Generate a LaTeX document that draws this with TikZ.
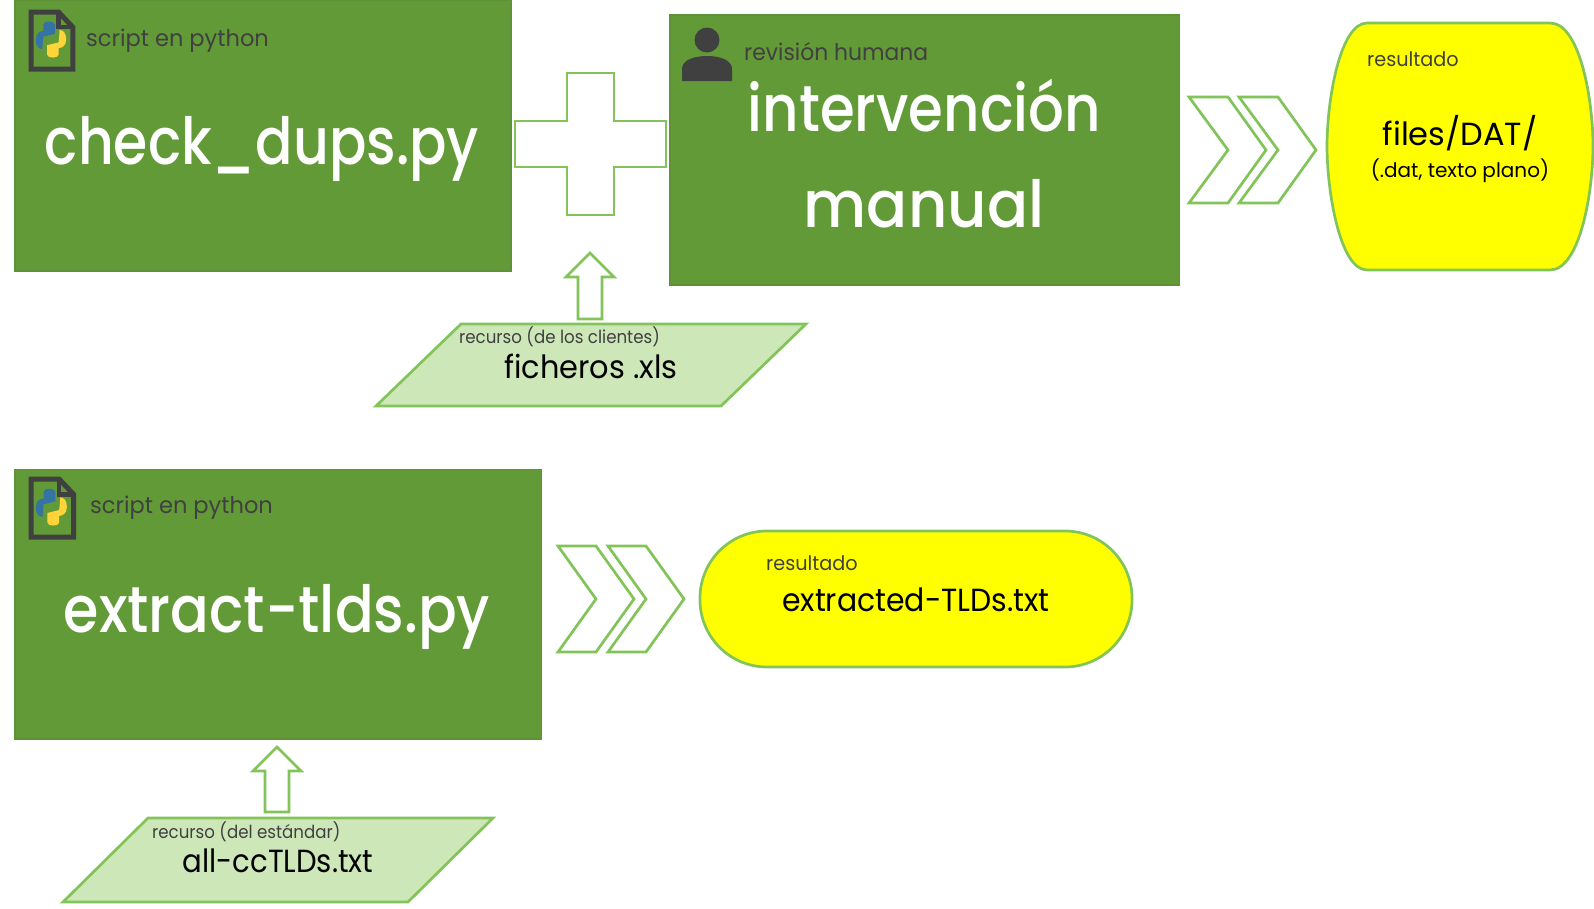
\documentclass[tikz,border=0pt]{standalone}
\usepackage{fontspec}
\setmainfont{Poppins}
\newfontfamily\medfont{Poppins Medium}
\definecolor{boxgreen}{HTML}{629A37}
\definecolor{boxedge}{HTML}{5F9236}
\definecolor{linegreen}{HTML}{82C45A}
\definecolor{palegreen}{HTML}{CEE7B9}
\definecolor{inkgray}{HTML}{404040}
\definecolor{resultyellow}{HTML}{FFFF00}
\definecolor{pyblue}{HTML}{3572A5}
\definecolor{pyyellow}{HTML}{FFD43B}
\begin{document}
\begin{tikzpicture}[
      x=1pt, y=-1pt,
      scriptbox/.style={draw=boxedge, fill=boxgreen, line width=1.5pt},
      outlinearrow/.style={draw=linegreen, fill=white, line width=2.7pt, line join=miter},
      recursobox/.style={draw=linegreen, fill=palegreen, line width=2.7pt},
      resultbox/.style={draw=linegreen, fill=resultyellow, line width=2.7pt},
      bigtext/.style={text=white, font=\fontsize{65}{65}\medfont, inner sep=0pt},
      tagtext/.style={text=inkgray, font=\fontsize{23}{23}\selectfont, anchor=west, inner sep=0pt},
      smalltag/.style={text=inkgray, font=\fontsize{18}{18}\selectfont, anchor=west, inner sep=0pt, xscale=.925},
      blacktext/.style={text=black, inner sep=0pt}
    ]
    \useasboundingbox (0,0) rectangle (1594,908);

    % Cajas de scripts
    \draw[scriptbox] (14.8,0) rectangle (511,271);
    \draw[scriptbox] (669.8,14.8) rectangle (1179.5,285);
    \draw[scriptbox] (14.8,469.5) rectangle (541.5,739);

    \node[bigtext, xscale=.85] (dups) at (262,149) {check\_dups.py};
    \node[bigtext, xscale=.865] (interv) at (924.5,106) {intervención};
    \node[bigtext, xscale=.935] (manual) at (924,204) {manual};
    \node[bigtext, xscale=.88] (tlds) at (277,617) {extract-tlds.py};

    \node[tagtext, xscale=.98] (tagdups) at (86,41) {script en python};
    \node[tagtext, xscale=.95] (taghuman) at (744,52) {revisión humana};
    \node[tagtext, xscale=.98] (tagtlds) at (90,508) {script en python};

    % Iconos de fichero
    \foreach \ox/\oy/\sc in {31/12/.95, 31/479/.97} {
      \begin{scope}[shift={(\ox,\oy)}, scale=\sc]
        \draw[inkgray, line width=5pt] (0,0) -- (29,0) -- (44,16) -- (44,60) -- (0,60) -- cycle;
        \draw[inkgray, line width=4.5pt] (29,0) -- (29,16) -- (44,16);
        \fill[pyblue] (5,29) .. controls (5,22) and (10,20) .. (13,20) -- (13,13)
          .. controls (13,9) and (25,9) .. (25,13) -- (25,23) -- (13,26) .. controls (12,34) and (12,38) .. (12,39)
          .. controls (8,39) and (5,36) .. (5,29) -- cycle;
        \fill[pyyellow] (37,29) .. controls (37,36) and (32,38) .. (29,38) -- (29,45)
          .. controls (29,49) and (17,49) .. (17,45) -- (17,35) -- (29,32) .. controls (30,24) and (30,20) .. (30,19)
          .. controls (34,19) and (37,22) .. (37,29) -- cycle;
      \end{scope}
    }

    % Icono de persona
    \fill[inkgray] (707,40) circle (12.5);
    \fill[inkgray] (682,81) -- (682,69) .. controls (682,60) and (694,56) .. (707,56)
      .. controls (720,56) and (732,60) .. (732,69) -- (732,81) -- cycle;

    % Cruz
    \draw[outlinearrow] (567,73) -- (614,73) -- (614,121) -- (666,121) -- (666,167) -- (614,167)
      -- (614,215) -- (567,215) -- (567,167) -- (515,167) -- (515,121) -- (567,121) -- cycle;

    % Chevrones superiores
    \foreach \ox in {0,50} {
      \draw[outlinearrow, shift={(\ox,0)}] (1189,97) -- (1228,97) -- (1266,150) -- (1228,203)
        -- (1189,203) -- (1228,150) -- cycle;
    }

    % Chevrones inferiores
    \foreach \ox in {0,50} {
      \draw[outlinearrow, shift={(\ox,0)}] (558,546) -- (596,546) -- (634,599) -- (596,652)
        -- (558,652) -- (596,599) -- cycle;
    }

    % Flechas de recursos
    \draw[outlinearrow] (590,253) -- (614,277) -- (602,277) -- (602,319) -- (578,319) -- (578,277) -- (566,277) -- cycle;
    \draw[outlinearrow] (277,747) -- (301,771) -- (289,771) -- (289,812) -- (265,812) -- (265,771) -- (253,771) -- cycle;

    % Recursos
    \draw[recursobox] (461,324) -- (806,324) -- (721,406) -- (376,406) -- cycle;
    \node[smalltag] (tagxls) at (459,337) {recurso (de los clientes)};
    \node[blacktext, xscale=.95, font=\fontsize{32}{32}\selectfont] (xls) at (591,366) {ficheros .xls};

    \draw[recursobox] (148,818) -- (493,818) -- (408,902) -- (63,902) -- cycle;
    \node[smalltag] (tagstd) at (152,832) {recurso (del estándar)};
    \node[blacktext, xscale=.91, font=\fontsize{32}{32}\selectfont] (cctld) at (278,861) {all-ccTLDs.txt};

    % Resultados
    \draw[resultbox] (1367,23) -- (1550,23) .. controls (1580,23) and (1593,100) .. (1593,146)
      .. controls (1593,192) and (1580,270) .. (1550,270) -- (1367,270)
      .. controls (1340,270) and (1327,192) .. (1327,146) .. controls (1327,100) and (1340,23) .. (1367,23) -- cycle;
    \node[smalltag, xscale=1.04, font=\fontsize{20}{20}\selectfont] (tagres1) at (1367,59) {resultado};
    \node[blacktext, font=\fontsize{32}{32}\selectfont] (dat) at (1460,133) {files/DAT/};
    \node[blacktext, font=\fontsize{20}{20}\selectfont] (plano) at (1460,171) {(.dat, texto plano)};

    \draw[resultbox, rounded corners=67pt] (700,531) rectangle (1132,667);
    \node[smalltag, xscale=1.04, font=\fontsize{20}{20}\selectfont] (tagres2) at (766,563) {resultado};
    \node[blacktext, xscale=.935, font=\fontsize{32}{32}\selectfont] (txt) at (916,600) {extracted-TLDs.txt};

  \end{tikzpicture}
\end{document}
